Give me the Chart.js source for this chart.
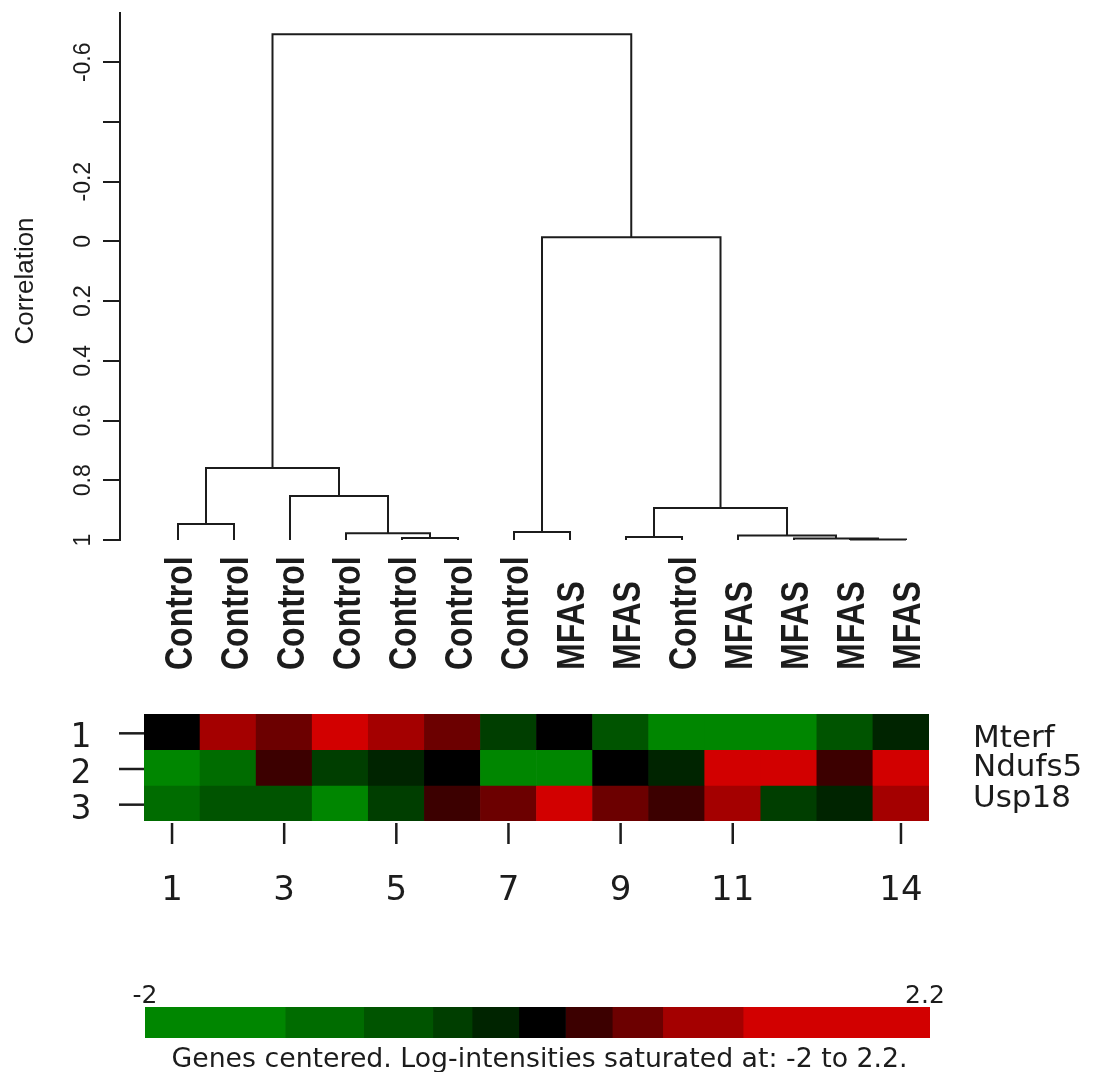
<!DOCTYPE html>
<html>
<head>
<meta charset="utf-8">
<script src="https://cdn.jsdelivr.net/npm/chart.js@4.4.1/dist/chart.umd.min.js"></script>
<style>
  html, body { margin: 0; padding: 0; background: #ffffff; }
  #wrap { position: relative; width: 1101px; height: 1072px; overflow: hidden; background: #ffffff; }
  canvas { position: absolute; left: 0; }
  #dendro { top: 0; }
  #heat { top: 690px; }
  #key { top: 960px; }
</style>
</head>
<body>
<div id="wrap">
  <canvas id="dendro" width="1101" height="700"></canvas>
  <canvas id="heat" width="1101" height="240"></canvas>
  <canvas id="key" width="1101" height="112"></canvas>
</div>
<script>
// ---- Sample clustering (leaf order left to right) ----
const leafLabels = ['Control','Control','Control','Control','Control','Control','Control',
                    'MFAS','MFAS','Control','MFAS','MFAS','MFAS','MFAS'];
// hclust-style merges: negative = leaf index, positive = earlier merge (1-based)
const mergeLeft   = [-13, -5, -12, -9, -11, -4, -7, -1, 4, -3, 8, 7, 11];
const mergeRight  = [-14, -6,   1, -10,  3,  2, -8, -2, 5,  6, 10, 9, 12];
const mergeHeight = [0.998, 0.993, 0.995, 0.990, 0.985, 0.977, 0.973, 0.946, 0.893, 0.853, 0.759, -0.014, -0.694];
const leafBase = 1;

// Correlation axis
const yTickValues = [-0.6, -0.4, -0.2, 0, 0.2, 0.4, 0.6, 0.8, 1];
const yTickLabels = ['-0.6', '', '-0.2', '0', '0.2', '0.4', '0.6', '0.8', '1'];

// ---- Gene expression (centered log-intensities) ----
const genes = ['Mterf', 'Ndufs5', 'Usp18'];
const columns = ['1','2','3','4','5','6','7','8','9','10','11','12','13','14'];
const mterf  = [0.1, 0.95, 0.6, 1.6, 1.0, 0.65, -0.35, 0.05, -0.6, -1.6, -1.7, -1.5, -0.65, -0.1];
const ndufs5 = [-1.5, -1.0, 0.35, -0.35, -0.15, 0.05, -1.4, -1.45, 0.1, -0.12, 1.7, 1.8, 0.35, 1.5];
const usp18  = [-1.1, -0.65, -0.7, -1.6, -0.35, 0.35, 0.6, 1.5, 0.65, 0.3, 0.95, -0.3, -0.15, 1.0];
const columnTicks = [1, 3, 5, 7, 9, 11, 14];
const rowTicks = ['1', '2', '3'];

// ---- Colour key ----
const keyBreaks = [-2, -1.25, -0.83, -0.46, -0.25, 0, 0.25, 0.5, 0.77, 1.2, 2.2];
const keyColors = ['#008600', '#006c00', '#005400', '#003e00', '#002400',
                   '#000000', '#3c0000', '#6c0000', '#a40000', '#d20000'];
const keyCaption = 'Genes centered. Log-intensities saturated at: -2 to 2.2.';

const INK = '#1c1c1c';

function colorFor(v) {
  for (let i = 0; i < keyColors.length; i++) {
    if (v < keyBreaks[i + 1]) return keyColors[i];
  }
  return keyColors[keyColors.length - 1];
}

// text helper: rotation, then stretch along / across the text direction
function drawText(ctx, txt, x, y, o) {
  ctx.save();
  ctx.translate(x, y);
  if (o.rot) ctx.rotate(o.rot);
  ctx.font = o.font;
  let along = o.along || 1;
  if (o.fitWidth) along = o.fitWidth / ctx.measureText(txt).width;
  ctx.scale(along, o.across || 1);
  ctx.fillStyle = o.color || INK;
  ctx.textAlign = o.align || 'center';
  ctx.textBaseline = 'alphabetic';
  ctx.fillText(txt, 0, o.dy || 0);
  ctx.restore();
}

// ---- Dendrogram segments from the merge table ----
const nodeX = [], nodeY = [];
function childPos(c) {
  if (c < 0) return { x: -c, y: leafBase };
  return { x: nodeX[c - 1], y: nodeY[c - 1] };
}
const dendroSets = [];
for (let k = 0; k < mergeHeight.length; k++) {
  const a = childPos(mergeLeft[k]);
  const b = childPos(mergeRight[k]);
  const h = mergeHeight[k];
  nodeX.push((a.x + b.x) / 2);
  nodeY.push(h);
  dendroSets.push({
    data: [{ x: a.x, y: a.y }, { x: a.x, y: h }, { x: b.x, y: h }, { x: b.x, y: b.y }],
    showLine: true,
    borderColor: INK,
    borderWidth: 2,
    pointRadius: 0,
    fill: false,
    tension: 0,
    clip: false
  });
}

const dendroText = {
  id: 'dendroText',
  afterDraw(chart) {
    const ctx = chart.ctx;
    const ys = chart.scales.y, xs = chart.scales.x;
    // correlation tick labels, parallel to the axis
    yTickValues.forEach((v, i) => {
      if (!yTickLabels[i]) return;
      drawText(ctx, yTickLabels[i], 90, ys.getPixelForValue(v),
        { font: '23px "Liberation Sans", Arial, sans-serif', rot: -Math.PI / 2 });
    });
    // axis title
    drawText(ctx, 'Correlation', 33, 281,
      { font: '26px "Liberation Sans", Arial, sans-serif', rot: -Math.PI / 2 });
    // leaf labels
    const base = ys.getPixelForValue(leafBase) + 130;
    leafLabels.forEach((lab, i) => {
      drawText(ctx, lab, xs.getPixelForValue(i + 1), base,
        { font: 'bold 32px "Liberation Sans", Arial, sans-serif', rot: -Math.PI / 2,
          align: 'left', across: 1.2, dy: 11.5 });
    });
  }
};

new Chart(document.getElementById('dendro'), {
  type: 'scatter',
  data: { datasets: dendroSets },
  options: {
    responsive: false,
    devicePixelRatio: 1,
    animation: false,
    events: [],
    layout: { padding: { top: 13, bottom: 160, left: 0, right: 141 } },
    plugins: { legend: { display: false }, tooltip: { enabled: false } },
    scales: {
      x: { type: 'linear', min: -0.0357, max: 14.964, display: false },
      y: {
        type: 'linear', reverse: true, min: -0.765, max: 1,
        afterBuildTicks(scale) { scale.ticks = yTickValues.map(v => ({ value: v })); },
        afterFit(scale) { scale.width = 120; },
        ticks: { display: false },
        grid: { display: true, drawOnChartArea: false, drawTicks: true, tickLength: 17,
                color: INK, lineWidth: 2, tickWidth: 2 },
        border: { display: true, color: INK, width: 2 }
      }
    }
  },
  plugins: [dendroText]
});

// ---- Heatmap ----
const rowValues = [mterf, ndufs5, usp18];
const heatSets = rowValues.map((vals, r) => ({
  label: genes[r],
  data: vals.map(() => [r, r + 1]),
  backgroundColor: vals.map(colorFor),
  borderWidth: 0,
  barPercentage: 1,
  categoryPercentage: 1,
  grouped: false
}));

const heatText = {
  id: 'heatText',
  afterDraw(chart) {
    const ctx = chart.ctx;
    const xs = chart.scales.x, ys = chart.scales.y, ca = chart.chartArea;
    ctx.save();
    ctx.strokeStyle = INK;
    ctx.lineWidth = 2.5;
    // row ticks and numbers
    rowTicks.forEach((t, r) => {
      const y = ys.getPixelForValue(r + 0.5) + 1.5;
      ctx.beginPath(); ctx.moveTo(ca.left - 25, y); ctx.lineTo(ca.left, y); ctx.stroke();
      drawText(ctx, t, 81, y + 2 + 12, { font: '33px "DejaVu Sans", Verdana, sans-serif' });
    });
    // column ticks and numbers
    columnTicks.forEach(c => {
      const x = xs.getPixelForValue(c - 1);
      ctx.beginPath(); ctx.moveTo(x, ca.bottom + 2); ctx.lineTo(x, ca.bottom + 23); ctx.stroke();
      drawText(ctx, String(c), x, ca.bottom + 79, { font: '34px "DejaVu Sans", Verdana, sans-serif' });
    });
    ctx.restore();
    // gene names
    const nameY = [46, 75, 106];
    genes.forEach((g, r) => {
      drawText(ctx, g, 973, nameY[r] + 11,
        { font: '31px "DejaVu Sans", Verdana, sans-serif', align: 'left' });
    });
  }
};

new Chart(document.getElementById('heat'), {
  type: 'bar',
  data: { labels: columns, datasets: heatSets },
  options: {
    responsive: false,
    devicePixelRatio: 1,
    animation: false,
    events: [],
    layout: { padding: { top: 24, bottom: 109, left: 144, right: 172 } },
    plugins: { legend: { display: false }, tooltip: { enabled: false } },
    scales: {
      x: { type: 'category', display: false },
      y: { type: 'linear', min: 0, max: 3, reverse: true, display: false }
    }
  },
  plugins: [heatText]
});

// ---- Colour key ----
const keySets = keyColors.map((c, i) => ({
  data: [[keyBreaks[i], keyBreaks[i + 1]]],
  backgroundColor: c,
  borderWidth: 0,
  barPercentage: 1,
  categoryPercentage: 1,
  grouped: false
}));

const keyText = {
  id: 'keyText',
  afterDraw(chart) {
    const ctx = chart.ctx;
    const xs = chart.scales.x, ca = chart.chartArea;
    const lo = keyBreaks[0], hi = keyBreaks[keyBreaks.length - 1];
    drawText(ctx, String(lo), xs.getPixelForValue(lo), ca.top - 4,
      { font: '25px "DejaVu Sans", Verdana, sans-serif' });
    drawText(ctx, String(hi), xs.getPixelForValue(hi) - 5, ca.top - 4,
      { font: '25px "DejaVu Sans", Verdana, sans-serif' });
    drawText(ctx, keyCaption, (ca.left + ca.right) / 2 + 2, ca.bottom + 29,
      { font: '27px "DejaVu Sans", Verdana, sans-serif', fitWidth: 736 });
  }
};

new Chart(document.getElementById('key'), {
  type: 'bar',
  data: { labels: ['key'], datasets: keySets },
  options: {
    indexAxis: 'y',
    responsive: false,
    devicePixelRatio: 1,
    animation: false,
    events: [],
    layout: { padding: { top: 47, bottom: 34, left: 145, right: 171 } },
    plugins: { legend: { display: false }, tooltip: { enabled: false } },
    scales: {
      x: { type: 'linear', min: keyBreaks[0], max: keyBreaks[keyBreaks.length - 1], display: false },
      y: { type: 'category', display: false }
    }
  },
  plugins: [keyText]
});
</script>
</body>
</html>
